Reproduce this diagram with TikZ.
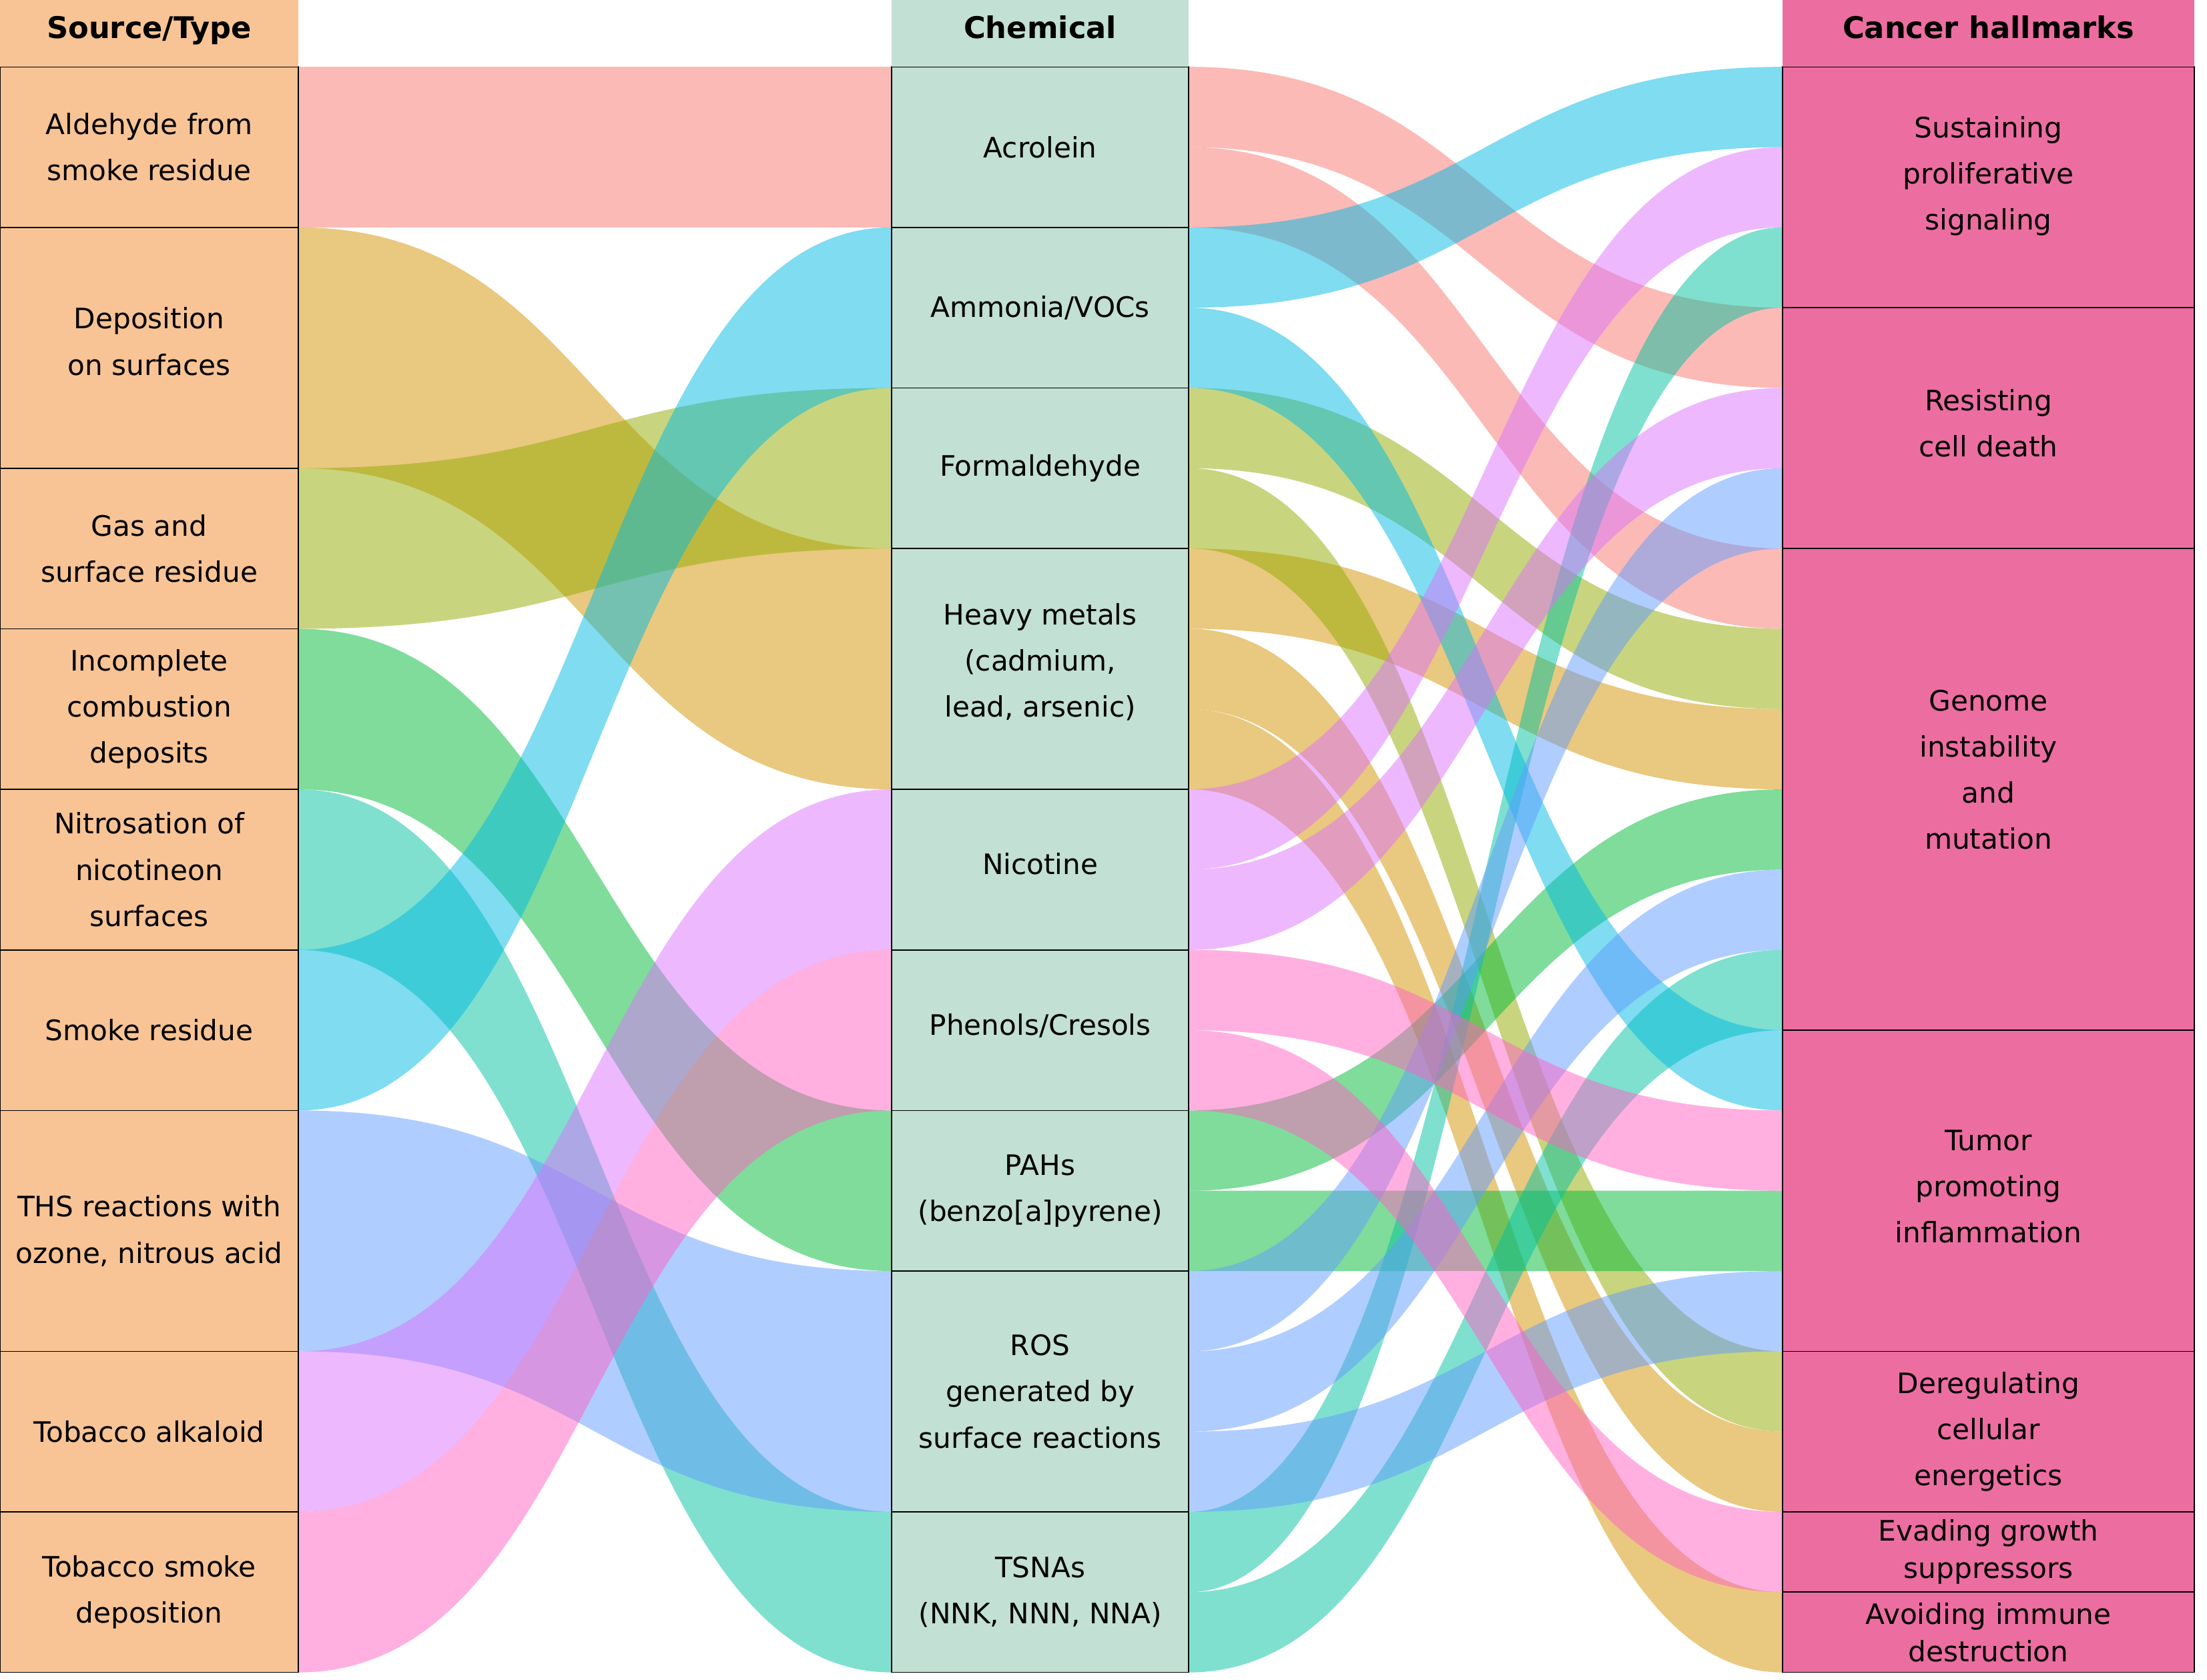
\documentclass[tikz,border=0pt]{standalone}
\usepackage{fontspec}
\setmainfont{DejaVu Sans}
\usepackage{xcolor}
\usetikzlibrary{positioning,calc,backgrounds}

\definecolor{srcfill}{HTML}{F8C495}
\definecolor{chemfill}{HTML}{C2E0D3}
\definecolor{hmfill}{HTML}{EC6EA1}
\definecolor{flA}{HTML}{F8766D}
\definecolor{flB}{HTML}{D39200}
\definecolor{flC}{HTML}{93AA00}
\definecolor{flD}{HTML}{00BA38}
\definecolor{flE}{HTML}{00C19F}
\definecolor{flF}{HTML}{00B9E3}
\definecolor{flG}{HTML}{619CFF}
\definecolor{flH}{HTML}{DB72FB}
\definecolor{flI}{HTML}{FF61C3}

\newlength{\flowunit}\setlength{\flowunit}{28.525pt}
% ribbon of #6 units, from node #2 (unit #3) to node #4 (unit #5)
\newcommand{\ribbon}[6]{%
  \fill[#1, fill opacity=.5]
    let \p1=($(#2.north east)+(0,-#3*\flowunit)$),
        \p2=($(#4.north west)+(0,-#5*\flowunit)$) in
    (\p1) .. controls ({(\x1+\x2)/2},\y1) and ({(\x1+\x2)/2},\y2) .. (\p2)
    -- (\x2,{\y2-#6*\flowunit})
    .. controls ({(\x1+\x2)/2},{\y2-#6*\flowunit}) and ({(\x1+\x2)/2},{\y1-#6*\flowunit}) .. (\x1,{\y1-#6*\flowunit})
    -- cycle;}

\begin{document}
\begin{tikzpicture}[node distance=0pt,
  box/.style={draw, line width=.4pt, outer sep=0pt, inner sep=1pt, align=center,
    font=\fontsize{10}{16.4}\selectfont},
  srcbox/.style={box, fill=srcfill, minimum width=106pt},
  chembox/.style={box, fill=chemfill, minimum width=105.5pt},
  hmbox/.style={box, fill=hmfill, minimum width=146.25pt},
  tight/.style={font=\fontsize{10}{13.2}\selectfont},
  head/.style={outer sep=0pt, inner sep=0pt, minimum height=23.75pt,
    text height=6pt, text depth=2.25pt, font=\bfseries\fontsize{10.6}{12}\selectfont},
  txt/.style={align=center, font=\fontsize{10}{16.4}\selectfont},
  h1/.style={minimum height=\flowunit},
  h2/.style={minimum height=2*\flowunit},
  h3/.style={minimum height=3*\flowunit},
  h4/.style={minimum height=4*\flowunit},
  h6/.style={minimum height=6*\flowunit}]
  \useasboundingbox (0,0) rectangle (784pt,-596.75pt);

  % sources
  \node[srcbox, h2, anchor=north west] (ald) at (0,-23.75pt) {Aldehyde from\\smoke residue};
  \node[srcbox, h3, below=of ald] (depo) {};
  \node[txt, yshift=2.25pt] (depotxt) at (depo.center) {Deposition\\on surfaces};
  \node[srcbox, h2, below=of depo] (gas) {Gas and\\surface residue};
  \node[srcbox, h2, below=of gas] (incomp) {Incomplete\\combustion\\deposits};
  \node[srcbox, h2, below=of incomp] (nitro) {Nitrosation of\\nicotineon\\surfaces};
  \node[srcbox, h2, below=of nitro] (smoke) {Smoke residue};
  \node[srcbox, h3, below=of smoke] (ths) {THS reactions with\\ozone, nitrous acid};
  \node[srcbox, h2, below=of ths] (alka) {Tobacco alkaloid};
  \node[srcbox, h2, below=of alka] (tsdep) {Tobacco smoke\\deposition};
  \node[head, fill=srcfill, minimum width=106pt, above=of ald] (srchead) {Source/Type};

  % chemicals
  \node[chembox, h2, anchor=north west] (acro) at (316.75pt,-23.75pt) {Acrolein};
  \node[chembox, h2, below=of acro] (ammo) {Ammonia/VOCs};
  \node[chembox, h2, below=of ammo] (form) {Formaldehyde};
  \node[chembox, h3, below=of form] (heavy) {};
  \node[txt, yshift=2.5pt] (heavytxt) at (heavy.center) {Heavy metals\\(cadmium,\\lead, arsenic)};
  \node[chembox, h2, below=of heavy] (nico) {};
  \node[txt, yshift=2pt] (nicotxt) at (nico.center) {Nicotine};
  \node[chembox, h2, below=of nico] (phen) {};
  \node[txt, yshift=1.5pt] (phentxt) at (phen.center) {Phenols/Cresols};
  \node[chembox, h2, below=of phen] (pah) {PAHs\\(benzo[a]pyrene)};
  \node[chembox, h3, below=of pah] (ros) {ROS\\generated by\\surface reactions};
  \node[chembox, h2, below=of ros] (tsna) {TSNAs\\(NNK, NNN, NNA)};
  \node[head, fill=chemfill, minimum width=105.5pt, above=of acro] (chemhead) {Chemical};

  % hallmarks
  \node[hmbox, h3, anchor=north west] (sustain) at (633.25pt,-23.75pt) {};
  \node[txt, yshift=4pt] (sustaintxt) at (sustain.center) {Sustaining\\proliferative\\signaling};
  \node[hmbox, h3, below=of sustain] (resist) {};
  \node[txt, yshift=1.75pt] (resisttxt) at (resist.center) {Resisting\\cell death};
  \node[hmbox, h6, below=of resist] (genome) {};
  \node[txt, yshift=7pt] (genometxt) at (genome.center) {Genome\\instability\\and\\mutation};
  \node[hmbox, h4, below=of genome] (tumor) {};
  \node[txt, yshift=1.5pt] (tumortxt) at (tumor.center) {Tumor\\promoting\\inflammation};
  \node[hmbox, h2, below=of tumor] (dereg) {Deregulating\\cellular\\energetics};
  \node[hmbox, h1, tight, below=of dereg] (evade) {Evading growth\\suppressors};
  \node[hmbox, h1, tight, below=of evade] (avoid) {Avoiding immune\\destruction};
  \node[head, fill=hmfill, minimum width=146.25pt, above=of sustain] (hmhead) {Cancer hallmarks};

  \begin{scope}[on background layer]
    % source -> chemical
    \ribbon{flA}{ald}{0}{acro}{0}{2}
    \ribbon{flB}{depo}{0}{heavy}{0}{3}
    \ribbon{flC}{gas}{0}{form}{0}{2}
    \ribbon{flD}{incomp}{0}{pah}{0}{2}
    \ribbon{flE}{nitro}{0}{tsna}{0}{2}
    \ribbon{flF}{smoke}{0}{ammo}{0}{2}
    \ribbon{flG}{ths}{0}{ros}{0}{3}
    \ribbon{flH}{alka}{0}{nico}{0}{2}
    \ribbon{flI}{tsdep}{0}{phen}{0}{2}
    % chemical -> hallmark
    \ribbon{flA}{acro}{0}{resist}{0}{1}
    \ribbon{flA}{acro}{1}{genome}{0}{1}
    \ribbon{flB}{heavy}{0}{genome}{2}{1}
    \ribbon{flB}{heavy}{1}{dereg}{1}{1}
    \ribbon{flB}{heavy}{2}{avoid}{0}{1}
    \ribbon{flC}{form}{0}{genome}{1}{1}
    \ribbon{flC}{form}{1}{dereg}{0}{1}
    \ribbon{flD}{pah}{0}{genome}{3}{1}
    \ribbon{flD}{pah}{1}{tumor}{2}{1}
    \ribbon{flE}{tsna}{0}{sustain}{2}{1}
    \ribbon{flE}{tsna}{1}{genome}{5}{1}
    \ribbon{flF}{ammo}{0}{sustain}{0}{1}
    \ribbon{flF}{ammo}{1}{tumor}{0}{1}
    \ribbon{flG}{ros}{0}{resist}{2}{1}
    \ribbon{flG}{ros}{1}{genome}{4}{1}
    \ribbon{flG}{ros}{2}{tumor}{3}{1}
    \ribbon{flH}{nico}{0}{sustain}{1}{1}
    \ribbon{flH}{nico}{1}{resist}{1}{1}
    \ribbon{flI}{phen}{0}{tumor}{1}{1}
    \ribbon{flI}{phen}{1}{evade}{0}{1}
  \end{scope}
\end{tikzpicture}
\end{document}
